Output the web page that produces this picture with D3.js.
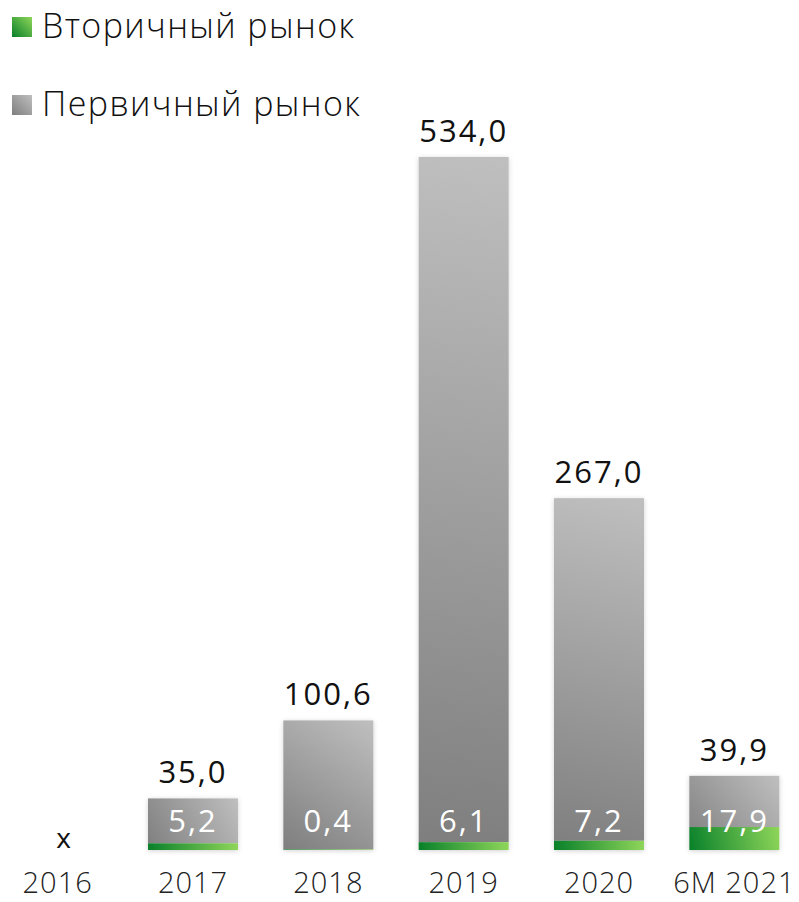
<!DOCTYPE html>
<html>
<head>
<meta charset="utf-8">
<script src="https://cdn.jsdelivr.net/npm/d3@7"></script>
<style>
  html, body { margin: 0; padding: 0; background: #fff; }
  svg { display: block; font-family: "Open Sans", "Noto Sans", sans-serif; font-weight: 300; }
</style>
</head>
<body>
<svg id="chart" width="799" height="902"></svg>
<script>
// ---------- данные ----------
const categories = ["2016", "2017", "2018", "2019", "2020", "6M 2021"];
const primary   = [null, 35.0, 100.6, 534.0, 267.0, 39.9];   // Первичный рынок
const secondary = [null, 5.2, 0.4, 6.1, 7.2, 17.9];          // Вторичный рынок
const legendLabels = ["Вторичный рынок", "Первичный рынок"];

const fmt = v => d3.format(".1f")(v).replace(".", ",");

const baseY = 850;
const svg = d3.select("#chart");
const defs = svg.append("defs");

// тень
const f = defs.append("filter").attr("id", "shadow")
  .attr("x", "-20%").attr("y", "-20%").attr("width", "140%").attr("height", "140%");
f.append("feDropShadow").attr("dx", 0).attr("dy", 1).attr("stdDeviation", 2.5)
  .attr("flood-color", "#000").attr("flood-opacity", 0.18);

const x = d3.scaleBand().domain(categories).range([-10, 802])
  .paddingInner(0.335).paddingOuter(0.1675);

const totals = primary.map((p, i) => (p || 0) + (secondary[i] || 0));
const y = d3.scaleLinear().domain([0, d3.max(totals)]).range([baseY, 157]);

const rows = categories.map((c, i) => ({ cat: c, i, p: primary[i], s: secondary[i] }));

// градиент на каждый столбик (из нижнего левого в верхний правый угол)
function grad(id, x0, y0, x1, y1, c0, c1) {
  const g = defs.append("linearGradient").attr("id", id)
    .attr("gradientUnits", "userSpaceOnUse")
    .attr("x1", x0).attr("y1", y0).attr("x2", x1).attr("y2", y1);
  g.append("stop").attr("offset", 0).attr("stop-color", c0);
  g.append("stop").attr("offset", 1).attr("stop-color", c1);
  return `url(#${id})`;
}

const bars = svg.append("g");
rows.filter(d => d.p != null).forEach(d => {
  const bx = x(d.cat), bw = x.bandwidth();
  const yTop = y(d.p + d.s), ySec = y(d.s);
  const g = bars.append("g").attr("filter", "url(#shadow)");
  g.append("rect")
    .attr("x", bx).attr("y", yTop).attr("width", bw).attr("height", ySec - yTop)
    .attr("fill", grad("gp" + d.i, bx, baseY, bx + bw, yTop, "#7e7e7e", "#bfbfbf"));
  g.append("rect")
    .attr("x", bx).attr("y", ySec).attr("width", bw).attr("height", baseY - ySec)
    .attr("fill", grad("gs" + d.i, bx, baseY, bx + bw, ySec, "#08802a", "#8fd65a"));
});

// подписи
const labels = svg.append("g").attr("text-anchor", "middle");
rows.forEach(d => {
  const cx = x(d.cat) + x.bandwidth() / 2;
  if (d.p == null) {
    labels.append("text").attr("x", cx + 6).attr("y", baseY - 2)
      .attr("font-size", 28).attr("font-weight", 400).attr("fill", "#111").text("x");
    return;
  }
  labels.append("text").attr("x", cx).attr("y", y(d.p + d.s) - 15)
    .attr("font-size", 31).attr("font-weight", 400).attr("letter-spacing", 2)
    .attr("fill", "#111").text(fmt(d.p));
  labels.append("text").attr("x", cx).attr("y", 832)
    .attr("font-size", 31).attr("font-weight", 400).attr("letter-spacing", 2)
    .attr("fill", "#fff").text(fmt(d.s));
});

// ось категорий
svg.append("g").attr("text-anchor", "middle")
  .selectAll("text").data(categories).join("text")
  .attr("x", c => x(c) + x.bandwidth() / 2)
  .attr("y", 893)
  .attr("font-size", 29).attr("letter-spacing", 1).attr("fill", "#222")
  .text(c => c);

// легенда
const lg = svg.append("g");
const legendFills = [
  grad("lg0", 12, 37, 32, 17, "#08802a", "#8fd65a"),
  grad("lg1", 12, 115, 32, 95, "#7e7e7e", "#bfbfbf")
];
legendLabels.forEach((t, i) => {
  const ly = 17 + i * 78;
  lg.append("rect").attr("x", 12).attr("y", ly).attr("width", 20).attr("height", 20)
    .attr("fill", legendFills[i]);
  lg.append("text").attr("x", 42).attr("y", ly + 21)
    .attr("font-size", 34).attr("letter-spacing", 1.4).attr("fill", "#111").text(t);
});
</script>
</body>
</html>
